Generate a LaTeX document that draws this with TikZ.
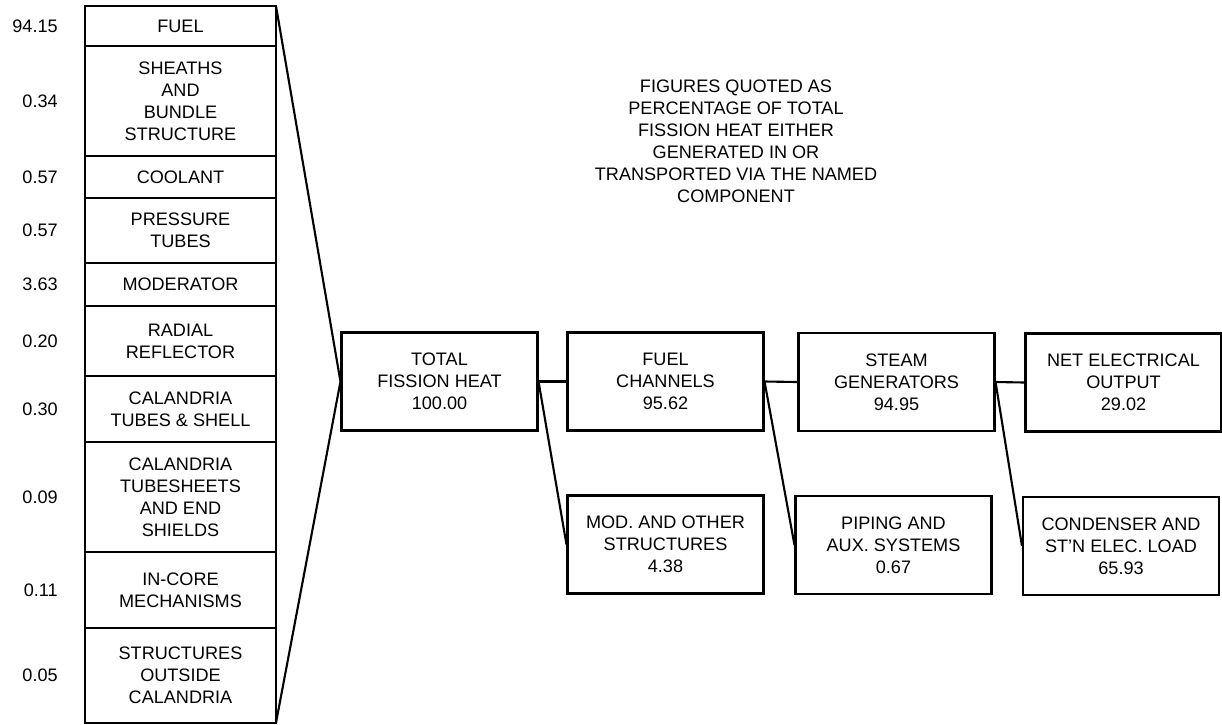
\documentclass[tikz,border=0pt]{standalone}
\usepackage{fontspec}
\setmainfont{Liberation Sans}
\usetikzlibrary{positioning}

\tikzset{
  stackrow/.style={draw, line width=1.2pt, minimum width=3.82cm, inner sep=0pt, outer sep=0pt,
    align=center, font=\fontsize{10.3}{12.5}\selectfont},
  pct/.style={inner sep=0pt, font=\fontsize{10.3}{12.5}\selectfont},
  stagebox/.style={draw, line width=1.2pt, minimum width=3.92cm, minimum height=1.96cm,
    align=center, font=\fontsize{10.3}{12.5}\selectfont},
  link/.style={line width=1.2pt}
}

\begin{document}
\begin{tikzpicture}[x=0.02cm, y=-0.02cm]
        \useasboundingbox (0,0) rectangle (1222,724);
        % reactor components, stacked
        \node[stackrow, minimum height=0.8cm, anchor=north] (fuel) at (180.5,6) {FUEL};
        \node[stackrow, minimum height=2.2cm, below=0pt of fuel] (sheaths) {SHEATHS\\AND\\BUNDLE\\STRUCTURE};
        \node[stackrow, minimum height=0.84cm, below=0pt of sheaths] (coolant) {COOLANT};
        \node[stackrow, minimum height=1.3cm, below=0pt of coolant] (ptubes) {PRESSURE\\TUBES};
        \node[stackrow, minimum height=0.86cm, below=0pt of ptubes] (moderator) {MODERATOR};
        \node[stackrow, minimum height=1.4cm, below=0pt of moderator] (reflector) {RADIAL\\REFLECTOR};
        \node[stackrow, minimum height=1.32cm, below=0pt of reflector] (caltubes) {CALANDRIA\\TUBES \& SHELL};
        \node[stackrow, minimum height=2.2cm, below=0pt of caltubes] (tubesheets) {CALANDRIA\\TUBESHEETS\\AND END\\SHIELDS};
        \node[stackrow, minimum height=1.52cm, below=0pt of tubesheets] (incore) {IN-CORE\\MECHANISMS};
        \node[stackrow, minimum height=1.9cm, below=0pt of incore] (outside) {STRUCTURES\\OUTSIDE\\CALANDRIA};

        % percentages
        \node[pct, left=0.54cm of fuel] {94.15};
        \node[pct, left=0.54cm of sheaths] {0.34};
        \node[pct, left=0.54cm of coolant] {0.57};
        \node[pct, left=0.54cm of ptubes] {0.57};
        \node[pct, left=0.54cm of moderator] {3.63};
        \node[pct, left=0.54cm of reflector] {0.20};
        \node[pct, left=0.54cm of caltubes] {0.30};
        \node[pct, left=0.54cm of tubesheets] {0.09};
        \node[pct, left=0.54cm of incore] {0.11};
        \node[pct, left=0.54cm of outside] {0.05};

        % heat path
        \node[stagebox] (total) at (439.5,381.5) {TOTAL\\FISSION HEAT\\100.00};
        \node[stagebox] (channels) at (665.5,381.5) {FUEL\\CHANNELS\\95.62};
        \node[stagebox] (steamgen) at (896.5,382) {STEAM\\GENERATORS\\94.95};
        \node[stagebox] (netout) at (1123.5,382.5) {NET ELECTRICAL\\OUTPUT\\29.02};
        \node[stagebox] (modother) at (665.5,544.5) {MOD. AND OTHER\\STRUCTURES\\4.38};
        \node[stagebox] (piping) at (893.5,545) {PIPING AND\\AUX. SYSTEMS\\0.67};
        \node[stagebox] (condenser) at (1121,546) {CONDENSER AND\\ST'N ELEC. LOAD\\65.93};

        \node[align=center, font=\fontsize{10.3}{12.5}\selectfont] (note) at (736,141)
          {FIGURES QUOTED AS\\PERCENTAGE OF TOTAL\\FISSION HEAT EITHER\\GENERATED IN OR\\TRANSPORTED VIA THE NAMED\\COMPONENT};

        \draw[link] (fuel.north east) -- (total.west) -- (outside.south east);
        \draw[link] (total.east) -- (channels.west);
        \draw[link] (channels.east) -- (steamgen.west);
        \draw[link] (steamgen.east) -- (netout.west);
        \draw[link] (total.east) -- (modother.west);
        \draw[link] (channels.east) -- (piping.west);
        \draw[link] (steamgen.east) -- (condenser.west);
      \end{tikzpicture}
\end{document}
